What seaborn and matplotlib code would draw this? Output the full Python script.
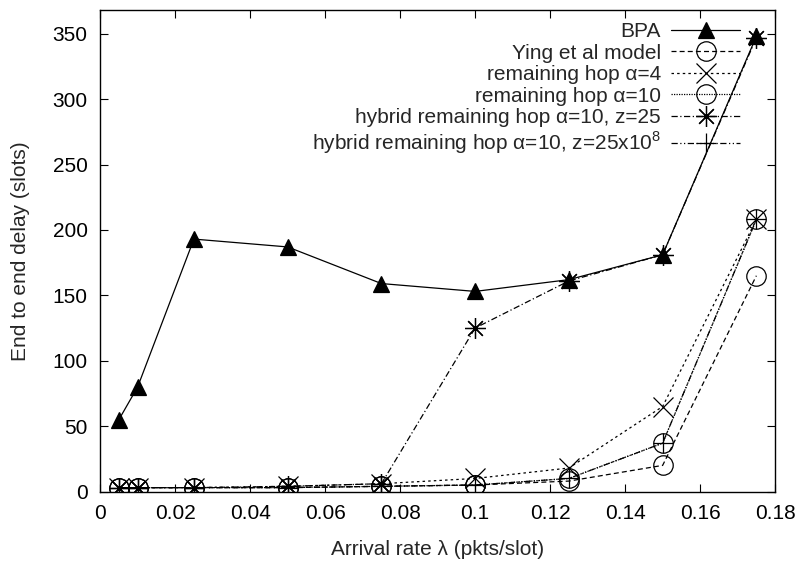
import numpy as np
import pandas as pd
import matplotlib
matplotlib.use("Agg")
import matplotlib.pyplot as plt
import seaborn as sns

# arrival rates (pkts/slot)
rate = [0.005, 0.01, 0.025, 0.05, 0.075, 0.1, 0.125, 0.15, 0.175]

# end to end delay (slots) per scheme
bpa = [55, 80, 193, 187, 159, 153, 162, 181, 348]
ying = [3, 3, 3, 3, 4, 5, 8, 20, 165]
hop_a4 = [3, 3, 3, 4, 6, 10, 18, 65, 208]
hop_a10 = [3, 3, 3, 3, 4, 5, 10, 37, 208]
hybrid_z25 = [3, 3, 3, 4, 6, 125, 161, 181, 347]
hybrid_z25e8 = [3, 3, 3, 3, 4, 5, 10, 37, 208]

labels = ["BPA", "Ying et al model", "remaining hop α=4", "remaining hop α=10",
          "hybrid remaining hop α=10, z=25",
          "hybrid remaining hop α=10, z=25x10$^{8}$"]

sns.set_style("ticks")
plt.rcParams['font.family'] = ['Liberation Sans', 'DejaVu Sans']
plt.rcParams['font.size'] = 15
plt.rcParams['mathtext.fontset'] = 'custom'
plt.rcParams['mathtext.rm'] = 'Liberation Sans'

fig = plt.figure(figsize=(7.95, 5.65), dpi=100)
ax = fig.add_axes([0.126, 0.130, 0.849, 0.852])

# (values, marker, dashes, marker size, filled)
series = [
    (bpa, '^', (None, None), 12, True),
    (ying, 'o', (0, (4, 2.5)), 14, False),
    (hop_a4, 'x', (0, (2, 2.5)), 14, False),
    (hop_a10, 'o', (0, (1, 1)), 14, False),
    (hybrid_z25, (8, 2, 0), (0, (5, 2, 1, 2)), 15, False),
    (hybrid_z25e8, '+', (0, (5, 2, 1, 2, 1, 2)), 15, False),
]

for (vals, mk, ls, ms, filled), lab in zip(series, labels):
    kws = dict(marker=mk, markersize=ms, markeredgecolor='k', markeredgewidth=0.9,
               markerfacecolor='k' if filled else 'none', color='k', linewidth=0.9,
               label=lab)
    if ls != (None, None):
        kws['linestyle'] = ls
    sns.lineplot(x=rate, y=vals, ax=ax, **kws)

ax.set_xlim(0, 0.18)
ax.set_ylim(0, 368)
ax.set_xticks(np.arange(0, 0.181, 0.02))
ax.set_xticklabels(["0", "0.02", "0.04", "0.06", "0.08", "0.1", "0.12", "0.14", "0.16", "0.18"])
ax.set_yticks(range(0, 351, 50))
ax.tick_params(direction='in', top=True, right=True, length=6, width=0.8,
               labelsize=15, pad=9, colors='k')
for s in ax.spines.values():
    s.set_linewidth(1.0)
    s.set_color('k')

ax.set_xlabel("Arrival rate λ (pkts/slot)", fontsize=15, labelpad=12)
ax.set_ylabel("End to end delay (slots)", fontsize=15, labelpad=16)

leg = ax.legend(loc='upper right', bbox_to_anchor=(0.948, 0.975), frameon=False,
                markerfirst=False, alignment='right', handlelength=3.3,
                labelspacing=0.12, borderaxespad=0, borderpad=0,
                handletextpad=0.5, fontsize=15)
for t in leg.get_texts():
    t.set_ha('right')

fig.savefig("out.png", dpi=100)
